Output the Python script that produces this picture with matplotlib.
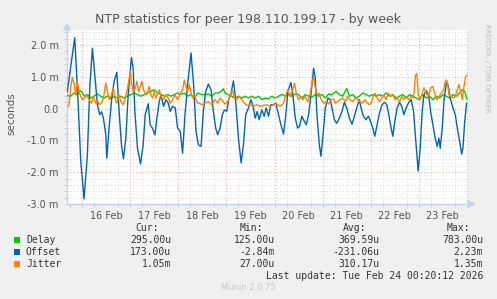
import matplotlib
matplotlib.use("Agg")
import matplotlib.pyplot as plt
from matplotlib.patches import Rectangle

# ---------------- data (hours since 16 Feb 00:00, values in milliseconds) ----------------
offset_h = [-7.35, -3.65, -2.0, -0.65, 1.0, 2.65, 3.85, 5.15, 6.5, 7.65, 8.85, 9.75, 10.65, 11.85,
            12.35, 13.5, 14.85, 16.0, 17.35, 18.5, 19.65, 20.65, 21.85, 23.0, 24.65, 25.5, 26.35,
            27.65, 29.15, 30.5, 31.5, 33.0, 34.0, 35.15, 36.35, 37.35, 38.5, 39.35, 40.65, 41.85,
            43.0, 44.0, 45.15, 46.5, 47.65, 49.0, 50.15, 51.35, 52.65, 54.35, 55.65, 56.85, 58.0,
            59.35, 60.5, 61.65, 63.0, 64.35, 65.5, 66.65, 67.65, 68.85, 70.0, 71.0, 72.15, 73.35,
            74.15, 75.5, 76.35, 77.15, 78.0, 79.35, 80.5, 81.65, 83.0, 84.15, 85.15, 86.35, 87.35,
            88.35, 89.65, 90.85, 91.85, 93.0, 94.15, 95.5, 96.65, 98.0, 99.15, 100.5, 101.65,
            102.65, 104.15, 105.15, 106.35, 107.5, 108.5, 109.65, 110.85, 111.85, 113.0, 114.15,
            115.5, 116.35, 117.15, 118.35, 119.15, 120.5, 121.35, 122.65, 123.85, 125.0, 125.85,
            127.0, 128.35, 129.65, 130.85, 132.0, 133.35, 134.65, 135.85, 137.0, 138.35, 139.15,
            140.35, 141.65, 142.85, 143.85, 145.0, 146.0, 147.15, 148.35, 149.65, 150.85, 152.0,
            153.0, 154.15, 155.0, 156.0, 157.15, 158.35, 159.5, 160.5, 161.65, 163.0, 164.15,
            165.35, 166.35, 167.65, 168.65, 169.65, 170.5, 171.65, 172.85, 173.85, 175.0, 176.15,
            177.15, 178.0, 178.65, 179.65, 180.5, 181.65, 182.5, 183.65, 185.0, 186.15, 187.15,
            188.35, 189.35, 190.0, 190.85, 191.8]
offset_v = [0.53, 2.23, 0.24, -1.65, -2.84, -1.47, 0.65, 1.9, 0.96, 0.12, -0.19, -0.1, -0.3, -0.82,
            -1.56, -0.6, 0.34, 0.86, 1.14, -0.09, -1.14, -1.58, -0.93, 0.43, 1.6, 1.27, -0.09,
            -1.24, -1.74, -1.14, -0.19, 0.15, -0.52, -0.62, -0.83, -0.3, 0.22, 0.43, 0.07, 0.28,
            0.17, -0.09, 0.07, 0.02, -0.61, -0.72, -1.4, -0.19, 0.75, 1.75, 0.75, -0.72, -1.14,
            -1.19, -0.09, 0.53, 0.77, 0.59, -0.09, -0.61, -0.82, -0.61, -0.19, -0.04, -0.09, 0.33,
            0.43, 0.87, 0.43, -0.19, -0.93, -1.71, -1.14, -0.19, 0.02, 0.28, 0.12, -0.3, -0.09,
            -0.35, -0.04, -0.24, 0.02, -0.24, 0.12, 0.12, 0.17, -0.19, -0.5, -0.8, -0.19,
            0.53, 0.82, 0.43, -0.3, -0.61, -0.56, -0.24, -0.4, -0.51, -0.19, 0.43,
            1.27, 0.96, -0.19, -1.14, -1.5, -0.61, 0.02, 0.33, 0.28, -0.09, -0.35,
            -0.46, -0.3, -0.09, 0.2, 0.02, -0.3, -0.49, -0.24, 0.02, 0.28, 0.02,
            -0.24, -0.35, -0.24, -0.4, -0.61, -0.87, -0.51, -0.14, 0.12, 0.2, 0.12,
            -0.19, -0.61, -0.87, -0.4, 0.02, 0.2, 0.07, -0.19, 0.02, 0.2, 0.28,
            -0.09, -0.93, -1.96, -1.25, -0.09, 0.43, 0.56, 0.43, -0.09, -0.51, -0.93,
            -1.19, -0.93, -1.25, -0.61, 0.23, 0.8, 0.75, 0.33, 0.02, -0.19, -0.61,
            -1.03, -1.43, -1.24, -0.4, 0.17]

jitter_h = [-7.33, -6.5, -5.67, -4.83, -4.0, -3.17, -2.33, -1.5, -0.67, 0.17, 1.33, 2.33, 3.5, 4.67,
            5.67, 6.83, 7.67, 8.5, 9.67, 10.67, 11.83, 12.67, 13.5, 14.67, 15.67, 16.33, 17.33,
            18.5, 19.33, 20.5, 21.33, 22.33, 23.17, 24.0, 24.67, 25.5, 26.33, 27.33, 28.17, 29.0,
            29.83, 30.67, 31.83, 32.67, 33.5, 34.33, 35.17, 36.0, 36.83, 37.67, 38.5, 39.33,
            40.67, 41.83, 43.0, 44.0, 45.17, 46.33, 47.67, 49.0, 50.17, 51.0, 51.83, 52.67, 53.5,
            54.33, 55.17, 56.0, 56.83, 57.67, 58.5, 59.67, 61.33, 63.0, 64.67, 66.33, 67.67,
            68.83, 70.0, 71.33, 72.67, 73.83, 75.0, 76.0, 77.17, 78.33, 79.67, 81.0, 82.17, 83.83,
            85.5, 87.17, 88.83, 90.5, 92.17, 93.83, 95.5, 97.17, 98.83, 100.5, 101.67, 102.67,
            103.83, 105.0, 106.0, 106.83, 108.0, 109.17, 110.17, 111.33, 112.67, 113.83, 114.67,
            115.5, 116.33, 117.33, 118.33, 119.33, 120.5, 121.67, 123.0, 124.17, 125.5, 126.33,
            127.5, 128.67, 130.0, 131.33, 132.5, 133.67, 135.0, 136.33, 137.5, 138.67, 140.0,
            141.17, 142.33, 143.33, 144.5, 145.5, 146.33, 147.17, 148.33, 149.5, 150.5, 151.67,
            152.83, 153.83, 155.0, 156.17, 157.17, 158.33, 159.5, 160.5, 161.67, 163.0, 164.17,
            165.33, 166.33, 167.0, 167.67, 168.67, 169.67, 170.5, 171.67, 172.83, 173.83, 175.0,
            175.83, 177.0, 178.0, 179.17, 180.33, 181.33, 182.17, 183.0, 184.17, 185.33, 186.33,
            187.17, 188.0, 188.67, 189.67, 190.5, 191.33, 192.0]
jitter_v = [0.07, 0.1, 0.65, 0.98, 0.8, 0.43, 0.85, 0.53, 0.38, 0.28, 0.33, 0.43, 0.28, 0.17,
            0.38, 0.17, 0.28, 0.12, 0.17, 0.33, 0.8, 0.53, 0.28, 0.43, 0.65, 0.33, 0.17,
            0.43, 0.22, 0.12, 0.28, 0.53, 0.8, 1.18, 0.8, 0.53, 0.59, 0.86, 0.53, 0.7,
            0.86, 0.59, 0.43, 0.53, 0.7, 0.43, 0.33, 0.53, 0.33, 0.48, 0.59, 0.38,
            0.28, 0.43, 0.33, 0.17, 0.28, 0.43, 0.28, 0.48, 0.59, 0.9, 0.7, 0.53, 0.75,
            0.53, 0.33, 0.43, 0.28, 0.17, 0.17, 0.12, 0.17, 0.22, 0.12, 0.28, 0.17,
            0.33, 0.25, 0.14, 0.22, 0.38, 0.59, 0.33, 0.28, 0.38, 0.28, 0.17, 0.1, 0.12,
            0.07, 0.12, 0.07, 0.1, 0.12, 0.07, 0.12, 0.14, 0.07, 0.17, 0.43, 0.59,
            0.38, 0.59, 0.8, 0.48, 0.28, 0.38, 0.28, 0.38, 0.22, 0.48, 0.8,
            1.0, 0.65, 0.43, 0.48, 0.28, 0.17, 0.22, 0.14, 0.28, 0.3, 0.17,
            0.22, 0.28, 0.33, 0.22, 0.38, 0.28, 0.22, 0.33, 0.28, 0.22, 0.17,
            0.28, 0.17, 0.12, 0.22, 0.43, 0.48, 0.33, 0.22, 0.33, 0.43, 0.28,
            0.48, 0.38, 0.43, 0.28, 0.33, 0.22, 0.38, 0.28, 0.38, 0.28, 0.38,
            0.33, 1.05, 1.1, 0.43, 0.28, 0.48, 0.65, 0.48, 0.38, 0.65, 0.7,
            0.48, 0.28, 0.38, 0.48, 0.59, 0.9, 0.86, 0.43, 0.38, 0.33, 0.43,
            0.59, 0.75, 0.59, 0.28, 0.7, 1.0, 1.05]

delay_h = [-7.33, -5.67, -4.0, -2.33, -1.0, 0.17, 1.0, 2.67, 4.33, 6.0, 7.67, 9.33, 11.0, 12.67,
           14.33, 16.0, 17.67, 19.33, 21.0, 22.67, 24.33, 26.0, 27.67, 29.33, 31.0, 32.67, 34.33,
           36.0, 37.67, 39.33, 41.0, 42.67, 44.33, 46.0, 47.67, 49.33, 51.0, 52.67, 54.33, 56.0,
           57.67, 59.67, 61.33, 63.0, 64.67, 66.33, 68.0, 69.67, 70.5, 71.33, 73.0, 74.67, 76.33,
           78.0, 79.67, 81.33, 83.0, 84.67, 86.33, 88.0, 89.67, 91.33, 93.0, 94.67, 96.33, 98.0,
           99.67, 101.33, 103.0, 104.67, 106.33, 108.0, 109.67, 111.33, 113.0, 114.67, 116.33,
           118.0, 119.67, 121.33, 123.0, 124.67, 126.67, 128.33, 130.0, 132.0, 133.33, 135.0,
           136.67, 138.33, 140.0, 141.67, 143.33, 145.0, 146.67, 148.33, 150.0, 151.67, 153.33,
           155.0, 156.67, 158.33, 160.0, 161.67, 163.33, 165.0, 166.67, 168.33, 170.0, 171.67,
           173.33, 175.0, 176.67, 178.33, 180.0, 181.67, 183.33, 185.0, 186.67, 188.33, 189.67,
           190.83, 192.0]
delay_v = [0.41, 0.39, 0.49, 0.44, 0.57, 0.49, 0.39, 0.44, 0.33, 0.39, 0.46, 0.39, 0.33, 0.39,
           0.31, 0.39, 0.33, 0.39, 0.33, 0.39, 0.44, 0.49, 0.44, 0.39, 0.44, 0.49, 0.54,
           0.59, 0.49, 0.44, 0.39, 0.44, 0.39, 0.44, 0.49, 0.44, 0.49, 0.39, 0.44, 0.33,
           0.49, 0.44, 0.44, 0.46, 0.39, 0.49, 0.49, 0.56, 0.62, 0.49, 0.44, 0.39, 0.31,
           0.39, 0.33, 0.39, 0.33, 0.39, 0.33, 0.39, 0.28, 0.33, 0.31, 0.39, 0.33, 0.39,
           0.44, 0.39, 0.44, 0.39, 0.46, 0.44, 0.33, 0.44, 0.39, 0.36, 0.44,
           0.39, 0.44, 0.33, 0.46, 0.44, 0.54, 0.44, 0.39, 0.63, 0.39, 0.44,
           0.33, 0.39, 0.49, 0.44, 0.39, 0.44, 0.39, 0.44, 0.39, 0.49, 0.39,
           0.44, 0.33, 0.39, 0.44, 0.33, 0.44, 0.39, 0.33, 0.28, 0.44, 0.33,
           0.39, 0.28, 0.39, 0.33, 0.44, 0.39, 0.33, 0.44, 0.39, 0.49, 0.59,
           0.54, 0.3]

day_labels = ["16 Feb", "17 Feb", "18 Feb", "19 Feb", "20 Feb", "21 Feb", "22 Feb", "23 Feb"]
y_ticks = [-3.0, -2.0, -1.0, 0.0, 1.0, 2.0]
y_labels = ["-3.0 m", "-2.0 m", "-1.0 m", "0.0", "1.0 m", "2.0 m"]

series_names = ["Delay", "Offset", "Jitter"]
series_colors = ["#00CC00", "#0066B3", "#FF8000"]
cur_vals = ["295.00u", "173.00u", "1.05m"]
min_vals = ["125.00u", "-2.84m", "27.00u"]
avg_vals = ["369.59u", "-231.06u", "310.17u"]
max_vals = ["783.00u", "2.23m", "1.35m"]

title = "NTP statistics for peer 198.110.199.17 - by week"
last_update = "Last update: Tue Feb 24 00:20:12 2026"

# ---------------- figure ----------------
W, H = 497, 299
fig = plt.figure(figsize=(W / 100, H / 100), dpi=100, facecolor="#F0F0F0")

def fx(px):
    return px / W

def fy(py):
    return 1 - py / H

X0, X1, Y0, Y1 = 67, 468, 30, 204
ax = fig.add_axes([fx(X0), fy(Y1), (X1 - X0) / W, (Y1 - Y0) / H])
ax.set_facecolor("white")
xmin, xmax = -7.5, 192.5
ymin, ymax = -3.0, 2.47
ax.set_xlim(xmin, xmax)
ax.set_ylim(ymin, ymax)

grid_c = "#DCDCDC"
mgrid_c = "#EBA9A9"
dots = (0, (1, 2))
# minor grid
h = -6
while h <= xmax:
    if h % 24 != 0:
        ax.axvline(h, color=grid_c, lw=0.75, ls=dots, zorder=0)
    h += 6
for k in range(-15, 13):
    v = k * 0.2
    if abs(v - round(v)) > 1e-6:
        ax.axhline(v, color=grid_c, lw=0.75, ls=dots, zorder=0)
# major grid
for d in range(0, 193, 24):
    ax.axvline(d, color=mgrid_c, lw=0.75, ls=dots, zorder=0.5)
for v in y_ticks[1:]:
    ax.axhline(v, color=mgrid_c, lw=0.75, ls=dots, zorder=0.5)

# data lines
ax.plot(delay_h, delay_v, color=series_colors[0], lw=1.0, zorder=3)
ax.plot(offset_h, offset_v, color=series_colors[1], lw=1.0, zorder=4)
ax.plot(jitter_h, jitter_v, color=series_colors[2], lw=1.0, zorder=5)

# axes styling
axis_c = "#C8D0F0"
for s in ["top", "right"]:
    ax.spines[s].set_visible(False)
for s in ["left", "bottom"]:
    ax.spines[s].set_color(axis_c)
    ax.spines[s].set_linewidth(1.0)

ax.set_xticks([12 + 24 * i for i in range(len(day_labels))])
ax.set_xticklabels(day_labels)
ax.set_yticks(y_ticks)
ax.set_yticklabels(y_labels)
ax.tick_params(axis="both", length=0, labelsize=7, colors="#555555", labelcolor="#555555")
ax.tick_params(axis="x", pad=5)
ax.tick_params(axis="y", pad=6)
ax.set_xticks([h for h in range(-6, 193, 6)], minor=True)
ax.set_yticks([k * 0.2 for k in range(-15, 13)], minor=True)
ax.tick_params(which="minor", length=2, color="#CCCCCC", width=0.7)

# arrows at end of axes
fig.add_artist(plt.Polygon([[fx(X1 + 6), fy(Y1)], [fx(X1), fy(Y1 - 3.5)], [fx(X1), fy(Y1 + 3.5)]],
                           closed=True, color=axis_c, transform=fig.transFigure))
fig.add_artist(plt.Polygon([[fx(X0), fy(Y0 - 6)], [fx(X0 - 3.5), fy(Y0)], [fx(X0 + 3.5), fy(Y0)]],
                           closed=True, color=axis_c, transform=fig.transFigure))

fig.text(fx(248), fy(19), title, ha="center", va="center", fontsize=9, color="#555555")
fig.text(fx(11), fy(114), "seconds", ha="center", va="center", rotation=90, fontsize=7.5,
         color="#555555")
fig.text(fx(487), fy(68), "RRDTOOL / TOBI OETIKER", ha="center", va="center", rotation=270,
         fontsize=5, color="#BBBBBB")

# legend block
mono = "DejaVu Sans Mono"
tc = "#333333"
fs = 7
hdr_y = 228
for label, xr in zip(["Cur:", "Min:", "Avg:", "Max:"], [159, 263, 366, 470]):
    fig.text(fx(xr), fy(hdr_y), label, ha="right", va="center", family=mono, fontsize=fs, color=tc)
rows_y = [240, 252, 264]
for i, name in enumerate(series_names):
    y = rows_y[i]
    fig.add_artist(Rectangle((fx(14), fy(y + 3)), 6 / W, 6 / H, transform=fig.transFigure,
                             facecolor=series_colors[i], edgecolor="none"))
    fig.text(fx(26), fy(y), name, ha="left", va="center", family=mono, fontsize=fs, color=tc)
    for vals, xr in zip([cur_vals, min_vals, avg_vals, max_vals], [171, 275, 379, 483]):
        fig.text(fx(xr), fy(y), vals[i], ha="right", va="center", family=mono, fontsize=fs, color=tc)
fig.text(fx(483), fy(276), last_update, ha="right", va="center", family=mono, fontsize=fs, color=tc)
fig.text(fx(248), fy(288), "Munin 2.0.75", ha="center", va="center", fontsize=6, color="#C8C8C8")

fig.savefig("out.png", dpi=100, facecolor=fig.get_facecolor())
